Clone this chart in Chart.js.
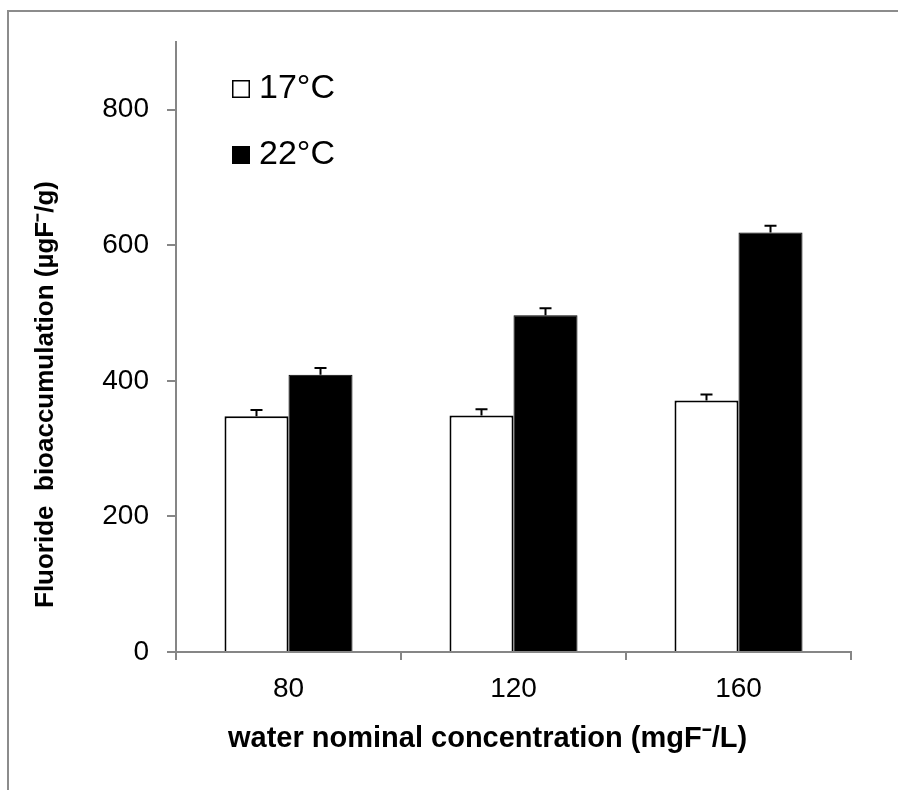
<!DOCTYPE html>
<html lang="en">
	<head>
		<meta charset="UTF-8" />
		<title>Fluoride bioaccumulation</title>
		<script src="https://cdn.jsdelivr.net/npm/chart.js@4.4.1/dist/chart.umd.min.js"></script>
		<style>
			body { margin: 0; background: #fff; }
			#wrap { position: relative; width: 898px; height: 790px; }
			#frame {
				position: absolute; left: 7px; top: 10px; right: -4px; bottom: -4px;
				border-top: 2px solid #8c8c8c; border-left: 2px solid #8c8c8c;
				pointer-events: none;
			}
			canvas { position: absolute; left: 0; top: 0; }
		</style>
	</head>
	<body>
		<div id="wrap">
			<canvas id="chart" width="898" height="790"></canvas>
			<div id="frame"></div>
		</div>
		<script>
			const categories = ["80", "120", "160"];
			const temp17 = [348, 349, 371];
			const temp22 = [409, 497, 619];
			const err17 = [9, 9, 9];
			const err22 = [10, 10, 10];
			const yTicks = [0, 200, 400, 600, 800];

			const font = "'Liberation Sans', Arial, sans-serif";

			// error bars (upward only) drawn from the bar scales
			const errorBars = {
				id: "errorBars",
				afterDatasetsDraw(chart) {
					const c = chart.ctx;
					const y = chart.scales.y;
					const errs = [err17, err22];
					c.save();
					c.strokeStyle = "#000";
					c.lineWidth = 2;
					chart.data.datasets.forEach((ds, i) => {
						const meta = chart.getDatasetMeta(i);
						meta.data.forEach((bar, j) => {
							const top = y.getPixelForValue(ds.data[j] + errs[i][j]);
							c.beginPath();
							c.moveTo(bar.x, bar.y);
							c.lineTo(bar.x, top);
							c.moveTo(bar.x - 6, top);
							c.lineTo(bar.x + 6, top);
							c.stroke();
						});
					});
					c.restore();
				},
			};

			// legend box in the top-left of the plot, and the axis titles
			const extras = {
				id: "extras",
				afterDraw(chart) {
					const c = chart.ctx;
					c.save();
					c.fillStyle = "#000";
					c.textBaseline = "middle";
					c.textAlign = "left";
					c.font = "34px " + font;
					chart.data.datasets.forEach((ds, i) => {
						const top = 80 + i * 66;
						c.fillStyle = ds.backgroundColor;
						c.fillRect(232, top, 18, 18);
						c.strokeStyle = "#000";
						c.lineWidth = 1.5;
						c.strokeRect(232.75, top + 0.75, 16.5, 16.5);
						c.fillStyle = "#000";
						c.fillText(ds.label, 259, top + 9);
					});

					c.font = "bold 29px " + font;
					c.fillText("water nominal concentration (mgF\u207B/L)", 228, 739);

					c.translate(46, 608);
					c.rotate(-Math.PI / 2);
					c.font = "bold 26px " + font;
					c.fillText("Fluoride  bioaccumulation (\u00B5gF\u207B/g)", 0, 0);
					c.restore();
				},
			};

			new Chart(document.getElementById("chart"), {
				type: "bar",
				data: {
					labels: categories,
					datasets: [
						{
							label: "17°C",
							data: temp17,
							backgroundColor: "#ffffff",
							borderColor: "#000000",
							borderWidth: 2,
						},
						{
							label: "22°C",
							data: temp22,
							backgroundColor: "#000000",
							borderColor: "#000000",
							borderWidth: 1,
						},
					],
				},
				options: {
					responsive: false,
					animation: false,
					layout: { padding: { top: 42, right: 47, left: 0, bottom: 0 } },
					datasets: { bar: { barPercentage: 1, categoryPercentage: 0.569 } },
					plugins: { legend: { display: false }, tooltip: { enabled: false } },
					scales: {
						x: {
							afterFit(scale) { scale.height = 138; },
							grid: {
								offset: true,
								drawOnChartArea: false,
								drawTicks: true,
								tickLength: 8,
								color: "#868686",
								lineWidth: 2,
							},
							border: { display: true, color: "#868686", width: 2 },
							ticks: { color: "#000", font: { family: font, size: 28 }, padding: 12 },
						},
						y: {
							min: 0,
							max: 900,
							afterFit(scale) { scale.width = 176; },
							afterBuildTicks(scale) {
								scale.ticks = yTicks.map((v) => ({ value: v }));
							},
							grid: {
								drawOnChartArea: false,
								drawTicks: true,
								tickLength: 9,
								color: "#868686",
								lineWidth: 2,
							},
							border: { display: true, color: "#868686", width: 2 },
							ticks: { color: "#000", font: { family: font, size: 28 }, padding: 18 },
						},
					},
				},
				plugins: [errorBars, extras],
			});
		</script>
	</body>
</html>
